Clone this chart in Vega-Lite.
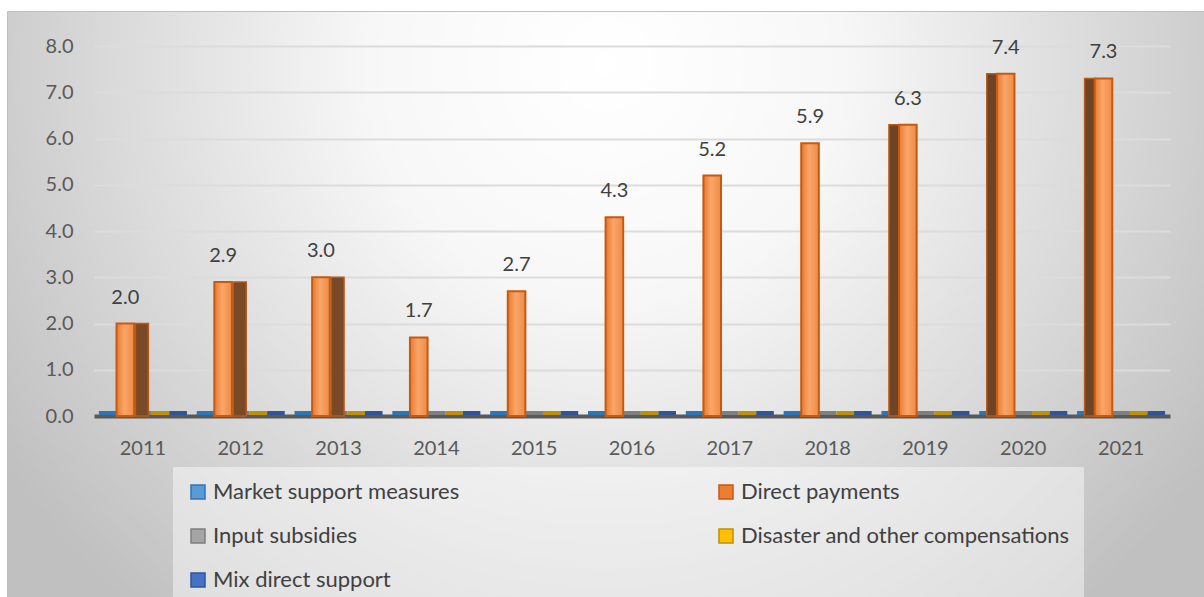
{
  "$schema": "https://vega.github.io/schema/vega-lite/v6.json",
  "width": 1197,
  "height": 586,
  "autosize": {"type": "none"},
  "padding": {"left": 7, "top": 11, "right": 0, "bottom": 0},
  "background": "white",
  "config": {
    "font": "Lato",
    "view": {
      "stroke": "#c0c0c0",
      "strokeWidth": 1,
      "fill": {
        "gradient": "radial",
        "x1": 0.5, "y1": 0.3, "r1": 0,
        "x2": 0.5, "y2": 0.3, "r2": 0.6,
        "stops": [
          {"offset": 0, "color": "#ffffff"},
          {"offset": 0.33, "color": "#f7f7f7"},
          {"offset": 1, "color": "#c0c0c0"}
        ]
      }
    }
  },
  "data": {
    "values": [
      {"year": 2011, "series": "Market support measures", "value": 0},
      {"year": 2011, "series": "Direct payments", "value": 2.0},
      {"year": 2011, "series": "Input subsidies", "value": 0},
      {"year": 2011, "series": "Disaster and other compensations", "value": 0},
      {"year": 2011, "series": "Mix direct support", "value": 0},
      {"year": 2012, "series": "Market support measures", "value": 0},
      {"year": 2012, "series": "Direct payments", "value": 2.9},
      {"year": 2012, "series": "Input subsidies", "value": 0},
      {"year": 2012, "series": "Disaster and other compensations", "value": 0},
      {"year": 2012, "series": "Mix direct support", "value": 0},
      {"year": 2013, "series": "Market support measures", "value": 0},
      {"year": 2013, "series": "Direct payments", "value": 3.0},
      {"year": 2013, "series": "Input subsidies", "value": 0},
      {"year": 2013, "series": "Disaster and other compensations", "value": 0},
      {"year": 2013, "series": "Mix direct support", "value": 0},
      {"year": 2014, "series": "Market support measures", "value": 0},
      {"year": 2014, "series": "Direct payments", "value": 1.7},
      {"year": 2014, "series": "Input subsidies", "value": 0},
      {"year": 2014, "series": "Disaster and other compensations", "value": 0},
      {"year": 2014, "series": "Mix direct support", "value": 0},
      {"year": 2015, "series": "Market support measures", "value": 0},
      {"year": 2015, "series": "Direct payments", "value": 2.7},
      {"year": 2015, "series": "Input subsidies", "value": 0},
      {"year": 2015, "series": "Disaster and other compensations", "value": 0},
      {"year": 2015, "series": "Mix direct support", "value": 0},
      {"year": 2016, "series": "Market support measures", "value": 0},
      {"year": 2016, "series": "Direct payments", "value": 4.3},
      {"year": 2016, "series": "Input subsidies", "value": 0},
      {"year": 2016, "series": "Disaster and other compensations", "value": 0},
      {"year": 2016, "series": "Mix direct support", "value": 0},
      {"year": 2017, "series": "Market support measures", "value": 0},
      {"year": 2017, "series": "Direct payments", "value": 5.2},
      {"year": 2017, "series": "Input subsidies", "value": 0},
      {"year": 2017, "series": "Disaster and other compensations", "value": 0},
      {"year": 2017, "series": "Mix direct support", "value": 0},
      {"year": 2018, "series": "Market support measures", "value": 0},
      {"year": 2018, "series": "Direct payments", "value": 5.9},
      {"year": 2018, "series": "Input subsidies", "value": 0},
      {"year": 2018, "series": "Disaster and other compensations", "value": 0},
      {"year": 2018, "series": "Mix direct support", "value": 0},
      {"year": 2019, "series": "Market support measures", "value": 0},
      {"year": 2019, "series": "Direct payments", "value": 6.3},
      {"year": 2019, "series": "Input subsidies", "value": 0},
      {"year": 2019, "series": "Disaster and other compensations", "value": 0},
      {"year": 2019, "series": "Mix direct support", "value": 0},
      {"year": 2020, "series": "Market support measures", "value": 0},
      {"year": 2020, "series": "Direct payments", "value": 7.4},
      {"year": 2020, "series": "Input subsidies", "value": 0},
      {"year": 2020, "series": "Disaster and other compensations", "value": 0},
      {"year": 2020, "series": "Mix direct support", "value": 0},
      {"year": 2021, "series": "Market support measures", "value": 0},
      {"year": 2021, "series": "Direct payments", "value": 7.3},
      {"year": 2021, "series": "Input subsidies", "value": 0},
      {"year": 2021, "series": "Disaster and other compensations", "value": 0},
      {"year": 2021, "series": "Mix direct support", "value": 0}
    ]
  },
  "encoding": {
    "x": {
      "field": "year",
      "type": "ordinal",
      "scale": {"range": [87, 1163], "paddingInner": 0.1, "paddingOuter": 0.05},
      "axis": {
        "title": null,
        "orient": "bottom",
        "offset": -181,
        "labelAngle": 0,
        "ticks": false,
        "grid": false,
        "domainColor": "#595959",
        "domainWidth": 4,
        "labelPadding": 22,
        "labelFont": "Lato",
        "labelFontSize": 20,
        "labelColor": "#595959"
      }
    },
    "y": {
      "field": "value",
      "type": "quantitative",
      "scale": {"domain": [0, 8], "range": [405, 35], "nice": false},
      "axis": {
        "title": null,
        "offset": -80,
        "values": [0, 1, 2, 3, 4, 5, 6, 7, 8],
        "format": ".1f",
        "domain": false,
        "ticks": false,
        "labelPadding": 14,
        "labelFont": "Lato",
        "labelFontSize": 20,
        "labelColor": "#595959",
        "gridColor": "#dcdcdc",
        "gridWidth": 2
      }
    }
  },
  "layer": [
    {
      "transform": [{"filter": "datum.value == 0"}],
      "mark": {"type": "bar", "strokeWidth": 4, "yOffset": -3},
      "encoding": {
        "xOffset": {
          "field": "series",
          "type": "nominal",
          "sort": ["Market support measures", "Direct payments", "Input subsidies", "Disaster and other compensations", "Mix direct support"],
          "scale": {"paddingInner": 0, "paddingOuter": 0}
        },
        "fill": {
          "field": "series",
          "type": "nominal",
          "scale": {
            "domain": ["Market support measures", "Direct payments", "Input subsidies", "Disaster and other compensations", "Mix direct support"],
            "range": ["#5b9bd5", "#ed7d31", "#a5a5a5", "#ffc000", "#4472c4"]
          },
          "legend": {
            "title": null,
            "orient": "none",
            "direction": "horizontal",
            "legendX": 166,
            "legendY": 456,
            "columns": 2,
            "padding": 14,
            "fillColor": "rgba(255,255,255,0.45)",
            "rowPadding": 22,
            "columnPadding": 255,
            "symbolType": "square",
            "symbolSize": 196,
            "symbolStrokeWidth": 1.5,
            "labelFont": "Lato",
            "labelFontSize": 22,
            "labelColor": "#404040",
            "labelOffset": 4,
            "labelLimit": 500
          }
        },
        "stroke": {
          "field": "series",
          "type": "nominal",
          "scale": {
            "domain": ["Market support measures", "Direct payments", "Input subsidies", "Disaster and other compensations", "Mix direct support"],
            "range": ["#2e75b6", "#c55a11", "#7f7f7f", "#bf9000", "#2f5597"]
          },
          "legend": null
        }
      }
    },
    {
      "transform": [{"filter": "datum.series == 'Direct payments' && datum.year <= 2013"}],
      "mark": {"type": "bar", "width": 13, "xOffset": -1, "fill": "#7a4a28", "stroke": "#b85a18", "strokeWidth": 1.5}
    },
    {
      "transform": [{"filter": "datum.series == 'Direct payments' && datum.year >= 2019"}],
      "mark": {"type": "bar", "width": 11, "xOffset": -31, "fill": "#6e4326", "stroke": "#b85a18", "strokeWidth": 1.5}
    },
    {
      "transform": [{"filter": "datum.series == 'Direct payments'"}],
      "mark": {
        "type": "bar",
        "stroke": "#c55a11",
        "strokeWidth": 2,
        "fill": {
          "gradient": "linear",
          "x1": 0, "y1": 0, "x2": 1, "y2": 0,
          "stops": [
            {"offset": 0, "color": "#ea782d"},
            {"offset": 0.45, "color": "#f9a669"},
            {"offset": 1, "color": "#f08a45"}
          ]
        }
      },
      "encoding": {
        "xOffset": {
          "field": "series",
          "type": "nominal",
          "sort": ["Market support measures", "Direct payments", "Input subsidies", "Disaster and other compensations", "Mix direct support"],
          "scale": {"paddingInner": 0, "paddingOuter": 0}
        }
      }
    },
    {
      "transform": [{"filter": "datum.series == 'Direct payments'"}],
      "mark": {"type": "text", "dy": -20, "baseline": "alphabetic", "font": "Lato", "fontSize": 20, "color": "#404040"},
      "encoding": {
        "xOffset": {
          "field": "series",
          "type": "nominal",
          "sort": ["Market support measures", "Direct payments", "Input subsidies", "Disaster and other compensations", "Mix direct support"],
          "scale": {"paddingInner": 0, "paddingOuter": 0}
        },
        "text": {"field": "value", "type": "quantitative", "format": ".1f"}
      }
    }
  ]
}
